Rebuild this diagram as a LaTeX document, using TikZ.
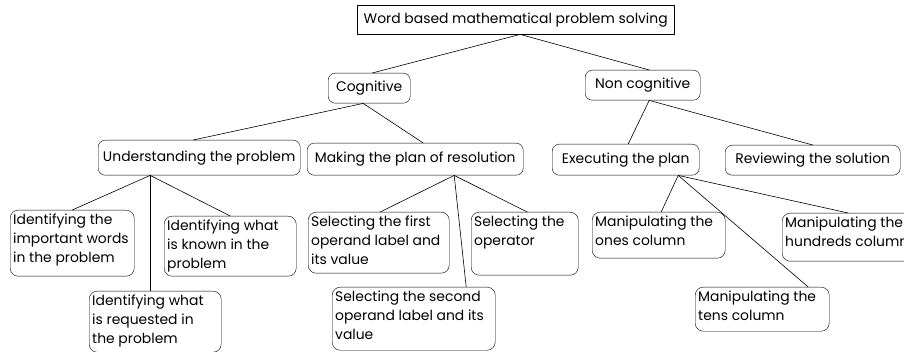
\documentclass[tikz,border=0pt]{standalone}
\usepackage{fontspec}
\setmainfont{Poppins}
\usetikzlibrary{positioning}
\def\topbox#1#2#3{\parbox[t][#2][t]{#1}{\raggedright #3}}

\begin{document}
\begin{tikzpicture}[x=1pt, y=-1pt,
    every node/.style={font=\fontsize{13.9}{19}\selectfont},
    head/.style={draw, thin, anchor=north west, inner sep=0pt},
    topic/.style={draw, thin, rounded corners=7pt, anchor=north west, inner sep=0pt},
    leaf/.style={draw, thin, rounded corners=8pt, anchor=north west, inner xsep=3pt, inner ysep=4pt},
    link/.style={line width=0.6pt}]
    \useasboundingbox (0,0) rectangle (904,352);
    \clip (0,0) rectangle (904,352);

    \node[head, minimum width=317pt, minimum height=29pt] (root) at (357,5) {Word based mathematical problem solving};

    \node[topic, minimum width=82pt, minimum height=30pt] (cog) at (328,73) {Cognitive};
    \node[topic, minimum width=115pt, minimum height=30pt] (noncog) at (585,70) {Non cognitive};

    \node[topic, minimum width=202pt, minimum height=35pt] (und) at (98,140) {Understanding the problem};
    \node[topic, minimum width=216pt, minimum height=32pt] (mak) at (307,143) {Making the plan of resolution};
    \node[topic, minimum width=147pt, minimum height=31pt] (exe) at (552,144) {Executing the plan};
    \node[topic, minimum width=175pt, minimum height=30pt] (rev) at (725,145) {Reviewing the solution};

    \node[leaf] (impw) at (10,210) {\topbox{118pt}{58pt}{Identifying the\\important words\\in the problem}};
    \node[leaf] (req) at (89,291) {\topbox{126pt}{53pt}{Identifying what\\is requested in\\the problem}};
    \node[leaf] (known) at (164,216) {\topbox{126pt}{52pt}{Identifying what\\is known in the\\problem}};
    \node[leaf] (first) at (308,212) {\topbox{135pt}{53pt}{Selecting the first\\operand label and\\its value}};
    \node[leaf] (second) at (332,287) {\topbox{157pt}{55pt}{Selecting the second\\operand label and its\\value}};
    \node[leaf] (oper) at (471,212) {\topbox{101pt}{55pt}{Selecting the\\operator}};
    \node[leaf] (ones) at (592,212) {\topbox{127pt}{38pt}{Manipulating the\\ones column}};
    \node[leaf] (tens) at (695,287) {\topbox{128pt}{36pt}{Manipulating the\\tens column}};
    \node[leaf] (hund) at (782,213) {\topbox{140pt}{40pt}{Manipulating the\\hundreds column}};

    \draw[link] ([xshift=4.5pt]root.south) -- ([xshift=3pt]cog.north);
    \draw[link] ([xshift=4.5pt]root.south) -- ([xshift=6.5pt]noncog.north);

    \draw[link] ([xshift=-6pt]cog.south) -- ([xshift=-6pt]und.north);
    \draw[link] ([xshift=-6pt]cog.south) -- ([xshift=8pt]mak.north);
    \draw[link] ([xshift=6.5pt]noncog.south) -- ([xshift=2.5pt]exe.north);
    \draw[link] ([xshift=6.5pt]noncog.south) -- (rev.north);

    \draw[link] ([xshift=-49pt]und.south) -- (impw.north);
    \draw[link] ([xshift=-49pt]und.south) -- ([xshift=-5pt]req.north);
    \draw[link] ([xshift=-49pt]und.south) -- (known.north);

    \draw[link] ([xshift=39pt]mak.south) -- ([xshift=1.5pt]first.north);
    \draw[link] ([xshift=39pt]mak.south) -- ([xshift=52.5pt]second.north);
    \draw[link] ([xshift=39pt]mak.south) -- ([xshift=2.5pt]oper.north);

    \draw[link] ([xshift=52.5pt]exe.south) -- ([xshift=2.5pt]ones.north);
    \draw[link] ([xshift=52.5pt]exe.south) -- ([xshift=46pt]tens.north);
    \draw[link] ([xshift=52.5pt]exe.south) -- ([xshift=-7pt]hund.north);
\end{tikzpicture}
\end{document}
